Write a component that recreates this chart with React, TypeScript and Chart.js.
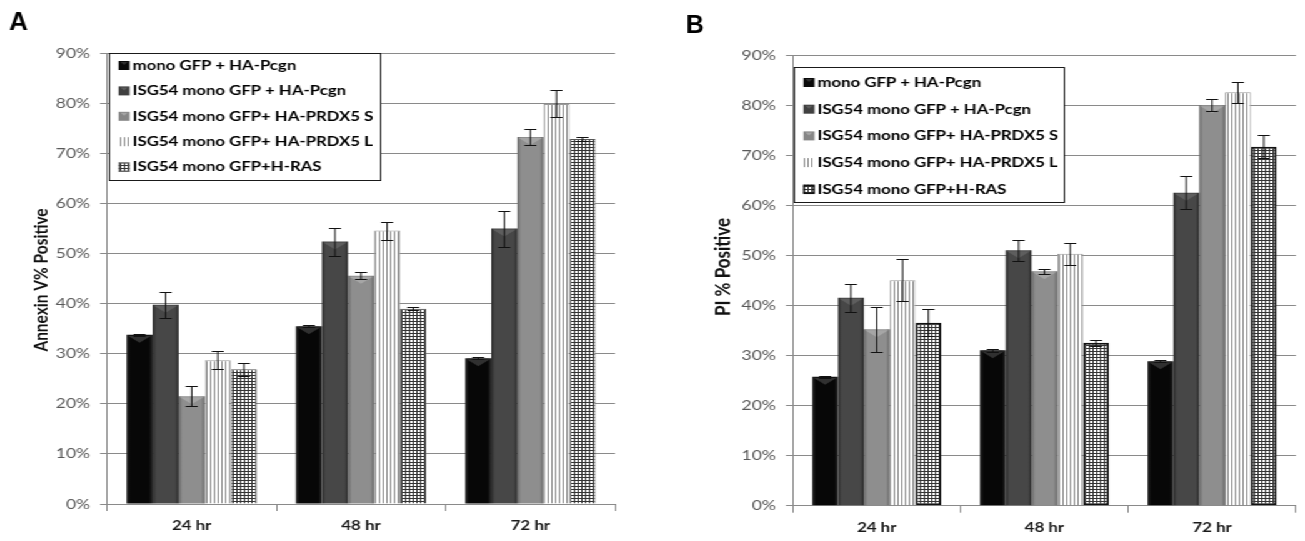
import React, { useEffect, useRef } from 'react';
import { Chart, registerables } from 'chart.js';

Chart.register(...registerables);

// ---------- data ----------
const categories = ['24 hr', '48 hr', '72 hr'];
const seriesNames = [
  'mono GFP + HA-Pcgn',
  'ISG54 mono GFP + HA-Pcgn',
  'ISG54 mono GFP+ HA-PRDX5 S',
  'ISG54 mono GFP+ HA-PRDX5 L',
  'ISG54 mono GFP+H-RAS',
];

// Panel A: Annexin V % positive
const annexMono = [33.8, 35.5, 29.1];
const annexIsgPcgn = [39.8, 52.4, 55.0];
const annexPrdx5S = [21.5, 45.6, 73.3];
const annexPrdx5L = [28.7, 54.6, 79.9];
const annexHRas = [26.9, 39.0, 72.9];
const annexMonoErr = [0.2, 0.2, 0.2];
const annexIsgPcgnErr = [2.6, 2.8, 3.6];
const annexPrdx5SErr = [2.0, 0.7, 1.6];
const annexPrdx5LErr = [1.8, 1.8, 2.7];
const annexHRasErr = [1.3, 0.3, 0.4];

// Panel B: PI % positive
const piMono = [25.8, 31.1, 28.9];
const piIsgPcgn = [41.6, 51.1, 62.6];
const piPrdx5S = [35.3, 46.9, 80.1];
const piPrdx5L = [45.1, 50.4, 82.7];
const piHRas = [36.6, 32.6, 71.8];
const piMonoErr = [0.2, 0.3, 0.2];
const piIsgPcgnErr = [2.8, 2.1, 3.3];
const piPrdx5SErr = [4.5, 0.5, 1.2];
const piPrdx5LErr = [4.2, 2.2, 2.1];
const piHRasErr = [2.7, 0.6, 2.3];

const yMin = 0;
const yMax = 90;
const yStep = 10;

// ---------- styling / layout ----------
const K = 1.25; // horizontal stretch of the figure
const GRID = '#8a8a8a';
const CAT_PCT = 0.77;

type Panel = {
  letter: string;
  yTitle: string;
  values: number[][];
  errors: number[][];
  canvasLeft: number;
  canvasWidth: number;
  axisWidth: number;
  padRight: number;
  padTop: number;
  xHeight: number;
  legend: { left: number; top: number; width: number; height: number; firstRow: number; rowGap: number };
  yTitleX: number;
  yTitleY: number;
  yTitleSize: number;
  letterX: number;
  letterY: number;
  letterSize: number;
  hashBorder: string;
  hashBorderWidth: number;
};

const panels: Panel[] = [
  {
    letter: 'A',
    yTitle: 'Annexin V% Positive',
    values: [annexMono, annexIsgPcgn, annexPrdx5S, annexPrdx5L, annexHRas],
    errors: [annexMonoErr, annexIsgPcgnErr, annexPrdx5SErr, annexPrdx5LErr, annexHRasErr],
    canvasLeft: 0,
    canvasWidth: 520,
    axisWidth: 85.6,
    padRight: 28,
    padTop: 53.3,
    xHeight: 37,
    legend: { left: 87.2, top: 53, width: 216.8, height: 127, firstRow: 65.5, rowGap: 25.4 },
    yTitleX: 33,
    yTitleY: 280,
    yTitleSize: 15.5,
    letterX: 9,
    letterY: 30,
    letterSize: 26,
    hashBorder: '#555555',
    hashBorderWidth: 1,
  },
  {
    letter: 'B',
    yTitle: 'PI % Positive',
    values: [piMono, piIsgPcgn, piPrdx5S, piPrdx5L, piHRas],
    errors: [piMonoErr, piIsgPcgnErr, piPrdx5SErr, piPrdx5LErr, piHRasErr],
    canvasLeft: 520,
    canvasWidth: 524,
    axisWidth: 114.4,
    padRight: 7.2,
    padTop: 55.7,
    xHeight: 35.3,
    legend: { left: 115.2, top: 67, width: 216, height: 135, firstRow: 82.5, rowGap: 26.7 },
    yTitleX: 58.4,
    yTitleY: 267,
    yTitleSize: 17,
    letterX: 36,
    letterY: 33,
    letterSize: 25,
    hashBorder: '#111111',
    hashBorderWidth: 2,
  },
];

const solidStops = [
  ['#2a2a2a', '#070707', '#070707', '#2a2a2a'],
  ['#2b2b2b', '#474747', '#474747', '#2b2b2b'],
  ['#676767', '#8e8e8e', '#8e8e8e', '#676767'],
];
const solidFlat = ['#0a0a0a', '#404040', '#868686'];
const triColors = ['#303030', '#5e5e5e', '#a6a6a6'];

function makePatterns(ctx: CanvasRenderingContext2D) {
  const st = document.createElement('canvas');
  st.width = 3;
  st.height = 3;
  const s = st.getContext('2d')!;
  s.fillStyle = '#ffffff';
  s.fillRect(0, 0, 3, 3);
  s.fillStyle = '#8a8a8a';
  s.fillRect(0, 0, 1, 3);
  const hs = document.createElement('canvas');
  hs.width = 3;
  hs.height = 3;
  const h = hs.getContext('2d')!;
  h.fillStyle = '#ffffff';
  h.fillRect(0, 0, 3, 3);
  h.fillStyle = '#333333';
  h.fillRect(0, 0, 3, 1);
  h.fillRect(0, 0, 1, 3);
  return {
    stripe: ctx.createPattern(st, 'repeat') as CanvasPattern,
    hash: ctx.createPattern(hs, 'repeat') as CanvasPattern,
  };
}

function PanelChart({ panel }: { panel: Panel }) {
  const ref = useRef<HTMLCanvasElement>(null);
  useEffect(() => {
    const canvas = ref.current!;
    const ctx0 = canvas.getContext('2d')!;
    const pats = makePatterns(ctx0);
    const n = seriesNames.length;

    const fillFor = (i: number) => (c: any) => {
      if (i === 3) return pats.stripe;
      if (i === 4) return pats.hash;
      const chart = c.chart;
      const xs = chart.scales && chart.scales.x;
      if (!xs || c.type !== 'data' || !xs.width) return solidFlat[i];
      const center = xs.getPixelForValue(c.dataIndex);
      const catW = xs.width / categories.length;
      const groupW = catW * CAT_PCT;
      const bw = groupW / n;
      const left = center - groupW / 2 + i * bw;
      const g = chart.ctx.createLinearGradient(left, 0, left + bw, 0);
      const st = solidStops[i];
      g.addColorStop(0, st[0]);
      g.addColorStop(0.14, st[1]);
      g.addColorStop(0.86, st[2]);
      g.addColorStop(1, st[3]);
      return g;
    };

    const decorPlugin = {
      id: 'decor',
      afterDatasetsDraw(chart: any) {
        const c: CanvasRenderingContext2D = chart.ctx;
        const y = chart.scales.y;
        // top bevel triangles on solid bars
        for (let di = 0; di < 3; di++) {
          const meta = chart.getDatasetMeta(di);
          meta.data.forEach((el: any) => {
            const w = el.width;
            const h = el.base - el.y;
            const d = Math.min(8, h);
            c.save();
            c.fillStyle = triColors[di];
            c.beginPath();
            c.moveTo(el.x - w / 2 + 1, el.y + 1);
            c.lineTo(el.x + w / 2 - 1, el.y + 1);
            c.lineTo(el.x, el.y + d);
            c.closePath();
            c.fill();
            c.restore();
          });
        }
        // error bars
        c.save();
        c.strokeStyle = '#111111';
        c.lineWidth = 1;
        chart.data.datasets.forEach((ds: any, di: number) => {
          const meta = chart.getDatasetMeta(di);
          meta.data.forEach((el: any, i: number) => {
            const v = ds.data[i];
            const e = panel.errors[di][i];
            const top = Math.round(y.getPixelForValue(v + e)) + 0.5;
            const bot = Math.round(y.getPixelForValue(v - e)) + 0.5;
            const half = 4.8;
            c.beginPath();
            c.moveTo(el.x, top);
            c.lineTo(el.x, bot);
            c.moveTo(el.x - half, top);
            c.lineTo(el.x + half, top);
            c.moveTo(el.x - half, bot);
            c.lineTo(el.x + half, bot);
            c.stroke();
          });
        });
        c.restore();
      },
      afterDraw(chart: any) {
        const c: CanvasRenderingContext2D = chart.ctx;
        // y axis title
        c.save();
        c.translate(panel.yTitleX, panel.yTitleY);
        c.rotate(-Math.PI / 2);
        c.font = `bold ${panel.yTitleSize}px Lato`;
        c.fillStyle = '#111111';
        c.textAlign = 'center';
        c.textBaseline = 'middle';
        c.fillText(panel.yTitle, 0, 0);
        c.restore();
        // panel letter (not stretched)
        c.save();
        c.scale(1 / K, 1);
        c.font = `bold ${panel.letterSize}px "Liberation Sans"`;
        c.fillStyle = '#000000';
        c.textBaseline = 'alphabetic';
        c.textAlign = 'left';
        c.fillText(panel.letter, panel.letterX, panel.letterY);
        c.restore();
        // legend
        const L = panel.legend;
        c.save();
        c.fillStyle = '#ffffff';
        c.fillRect(L.left, L.top, L.width, L.height);
        c.strokeStyle = '#1a1a1a';
        c.lineWidth = 1;
        c.strokeRect(Math.round(L.left) + 0.5, Math.round(L.top) + 0.5, Math.round(L.width), Math.round(L.height));
        const swX = L.left + 7.6;
        const swW = 8.8;
        const swH = 9;
        const txX = L.left + 18.8;
        c.font = 'bold 13.4px Lato';
        c.textBaseline = 'middle';
        c.textAlign = 'left';
        seriesNames.forEach((name, i) => {
          const cy = L.firstRow + i * L.rowGap;
          const sy = cy - swH / 2;
          if (i < 3) {
            c.fillStyle = solidFlat[i];
            c.fillRect(swX, sy, swW, swH);
            c.fillStyle = triColors[i];
            c.beginPath();
            c.moveTo(swX + 1.5, sy + 1);
            c.lineTo(swX + swW - 1.5, sy + 1);
            c.lineTo(swX + swW / 2, sy + 4);
            c.closePath();
            c.fill();
          } else {
            c.fillStyle = i === 3 ? pats.stripe : pats.hash;
            c.fillRect(swX, sy, swW, swH);
            if (i === 4) {
              c.strokeStyle = panel.hashBorder;
              c.lineWidth = panel.hashBorderWidth === 2 ? 1.5 : 1;
              c.strokeRect(swX + 0.5, sy + 0.5, swW - 1, swH - 1);
            }
          }
          c.fillStyle = '#000000';
          c.fillText(name, txX, cy);
        });
        c.restore();
      },
    };

    const chart = new Chart(canvas, {
      type: 'bar',
      data: {
        labels: categories,
        datasets: panel.values.map((vals, i) => ({
          label: seriesNames[i],
          data: vals,
          backgroundColor: fillFor(i) as any,
          borderColor: i === 4 ? panel.hashBorder : i === 3 ? '#9a9a9a' : 'rgba(0,0,0,0)',
          borderWidth: i === 4 ? panel.hashBorderWidth : i === 3 ? 1 : 0,
          borderSkipped: i === 4 && panel.hashBorderWidth === 2 ? false : 'start',
          categoryPercentage: CAT_PCT,
          barPercentage: 1,
        })),
      },
      options: {
        animation: false,
        responsive: true,
        maintainAspectRatio: false,
        events: [],
        layout: { padding: { left: 0, top: panel.padTop, right: panel.padRight, bottom: 0 } },
        plugins: {
          legend: { display: false },
          tooltip: { enabled: false },
          title: { display: false },
        },
        scales: {
          x: {
            grid: {
              display: true,
              drawOnChartArea: false,
              drawTicks: true,
              tickLength: 7,
              offset: true,
              color: GRID,
            },
            border: { display: true, color: GRID, width: 1 },
            ticks: {
              font: { family: 'Lato', size: 13.5, weight: 'bold' },
              color: '#1a1a1a',
              padding: 7,
              maxRotation: 0,
            },
            afterFit: (s: any) => {
              s.height = panel.xHeight;
            },
          },
          y: {
            min: yMin,
            max: yMax,
            grid: { color: GRID, tickLength: 5.6, drawTicks: true },
            border: { display: true, color: GRID, width: 1 },
            ticks: {
              stepSize: yStep,
              callback: (v: any) => `${v}%`,
              font: { family: 'Lato', size: 14 },
              color: '#595959',
              padding: 8,
            },
            afterFit: (s: any) => {
              s.width = panel.axisWidth;
            },
          },
        },
      },
      plugins: [decorPlugin],
    });
    return () => chart.destroy();
  }, [panel]);

  return (
    <div
      style={{
        position: 'absolute',
        left: panel.canvasLeft,
        top: 0,
        width: panel.canvasWidth,
        height: 541,
      }}
    >
      <canvas ref={ref} style={{ display: 'block' }} />
    </div>
  );
}

export default function App() {
  return (
    <div
      style={{
        position: 'absolute',
        left: 0,
        top: 0,
        width: 1305 / K,
        height: 541,
        transform: `scaleX(${K})`,
        transformOrigin: '0 0',
        background: '#ffffff',
      }}
    >
      {panels.map((p) => (
        <PanelChart key={p.letter} panel={p} />
      ))}
    </div>
  );
}
